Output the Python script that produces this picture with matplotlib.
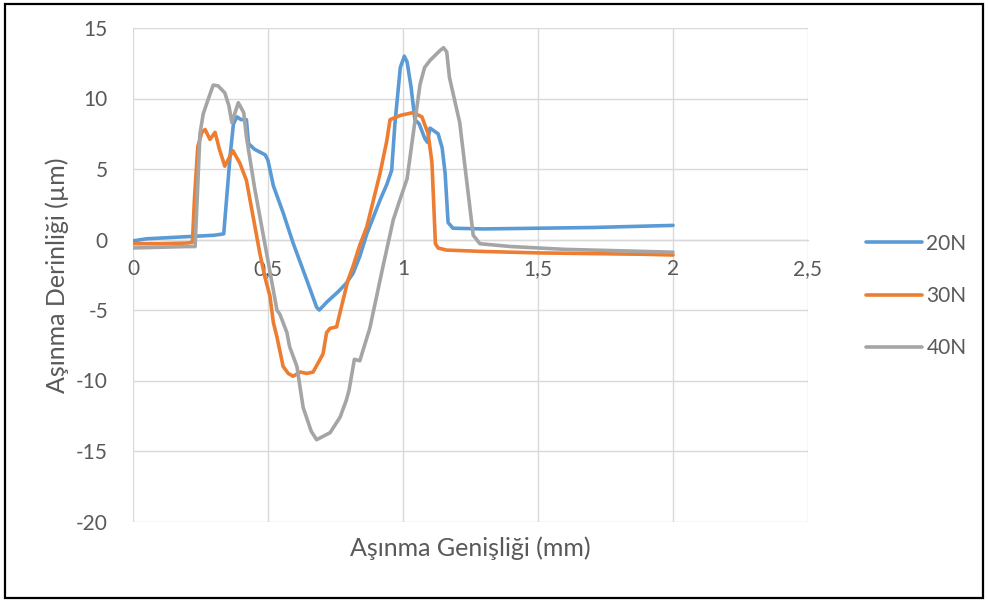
import matplotlib
matplotlib.use("Agg")
import matplotlib.pyplot as plt
from matplotlib.patches import Rectangle

# ---- data ----
x20 = [0, 0.05, 0.1, 0.2, 0.3, 0.336, 0.345, 0.36, 0.372, 0.385, 0.40, 0.42, 0.428,
       0.45, 0.47, 0.49, 0.50, 0.52, 0.556, 0.593, 0.644, 0.68, 0.69, 0.72, 0.76,
       0.79, 0.815, 0.84, 0.866, 0.915, 0.94, 0.958, 0.97, 0.99, 1.005, 1.015, 1.03,
       1.044, 1.06, 1.08, 1.09, 1.10, 1.13, 1.145, 1.156, 1.167, 1.185, 1.3, 1.5,
       1.7, 1.9, 2.0]
y20 = [-0.1, 0.05, 0.1, 0.2, 0.3, 0.4, 2.5, 6.0, 8.2, 8.7, 8.5, 8.5, 6.8,
       6.4, 6.2, 6.0, 5.6, 3.8, 1.9, -0.25, -2.9, -4.8, -5.0, -4.4, -3.7,
       -3.1, -2.4, -1.2, 0.4, 2.8, 3.9, 4.9, 8.2, 12.2, 13.0, 12.6, 10.8,
       8.5, 8.2, 7.2, 6.9, 7.9, 7.5, 6.5, 4.7, 1.2, 0.8, 0.75, 0.8,
       0.85, 0.95, 1.0]

x30 = [0, 0.1, 0.2, 0.22, 0.228, 0.24, 0.255, 0.267, 0.285, 0.304, 0.32, 0.34,
       0.37, 0.396, 0.42, 0.445, 0.47, 0.489, 0.507, 0.52, 0.533, 0.556, 0.575,
       0.593, 0.62, 0.644, 0.667, 0.693, 0.704, 0.717, 0.73, 0.754, 0.778, 0.796,
       0.815, 0.84, 0.866, 0.915, 0.94, 0.952, 0.99, 1.037, 1.07, 1.093, 1.107,
       1.115, 1.12, 1.13, 1.16, 1.3, 1.5, 1.7, 1.9, 2.0]
y30 = [-0.3, -0.3, -0.25, -0.2, 3.0, 6.6, 7.6, 7.8, 7.1, 7.6, 6.4, 5.2,
       6.3, 5.4, 4.2, 1.6, -1.0, -2.7, -4.0, -5.9, -6.9, -9.0, -9.5,
       -9.7, -9.4, -9.5, -9.4, -8.5, -8.1, -6.6, -6.3, -6.2, -4.3, -2.9,
       -1.9, -0.4, 0.9, 4.7, 7.0, 8.5, 8.8, 9.0, 8.7, 7.5, 5.5,
       2.0, -0.3, -0.6, -0.75, -0.85, -0.95, -1.0, -1.05, -1.1]

x40 = [0, 0.1, 0.2, 0.23, 0.238, 0.248, 0.26, 0.274, 0.297, 0.315, 0.34, 0.355,
       0.366, 0.39, 0.41, 0.42, 0.45, 0.496, 0.533, 0.544, 0.57, 0.58, 0.607,
       0.63, 0.66, 0.68, 0.70, 0.73, 0.767, 0.79, 0.80, 0.82, 0.84, 0.877,
       0.926, 0.964, 0.99, 1.015, 1.04, 1.063, 1.08, 1.10, 1.137, 1.15, 1.162, 1.172,
       1.185, 1.21, 1.235, 1.26, 1.285, 1.4, 1.6, 1.8, 2.0]
y40 = [-0.6, -0.55, -0.5, -0.5, 3.0, 7.5, 8.9, 9.7, 10.95, 10.9, 10.4, 9.5,
       8.3, 9.7, 9.0, 7.3, 3.7, -1.1, -5.0, -5.3, -6.6, -7.6, -9.0,
       -11.9, -13.6, -14.2, -14.0, -13.7, -12.6, -11.4, -10.7, -8.5, -8.6, -6.3,
       -1.9, 1.4, 2.9, 4.3, 7.8, 11.0, 12.2, 12.7, 13.4, 13.6, 13.3, 11.5,
       10.4, 8.3, 4.3, 0.3, -0.3, -0.5, -0.7, -0.8, -0.9]

series_names = ["20N", "30N", "40N"]
series_colors = ["#5B9BD5", "#ED7D31", "#A5A5A5"]

xticks = [0, 0.5, 1, 1.5, 2, 2.5]
xtick_labels = ["0", "0,5", "1", "1,5", "2", "2,5"]
yticks = [-20, -15, -10, -5, 0, 5, 10, 15]
ytick_labels = ["-20", "-15", "-10", "-5", "0", "5", "10", "15"]

xlabel = "Aşınma Genişliği (mm)"
ylabel = "Aşınma Derinliği (µm)"

# ---- figure ----
plt.rcParams['font.family'] = ['Lato', 'DejaVu Sans']
W, H = 988, 601
fig = plt.figure(figsize=(W / 100, H / 100), dpi=100)
ax = fig.add_axes([133 / W, 1 - 521.5 / H, (808 - 133) / W, (521.5 - 28) / H])

txt_col = "#595959"
grid_col = "#D9D9D9"

for xs, ys, name, col in zip([x20, x30, x40], [y20, y30, y40], series_names, series_colors):
    ax.plot(xs, ys, color=col, lw=2.6, label=name, solid_joinstyle='round', solid_capstyle='round')

ax.set_xlim(0, 2.5)
ax.set_ylim(-20, 15)
ax.set_xticks(xticks)
ax.set_xticklabels(xtick_labels)
ax.set_yticks(yticks)
ax.set_yticklabels(ytick_labels)

for s in ax.spines.values():
    s.set_visible(False)
ax.spines['bottom'].set_visible(True)
ax.spines['bottom'].set_position(('data', 0))
ax.spines['bottom'].set_color(grid_col)
ax.spines['bottom'].set_linewidth(1.0)
ax.spines['bottom'].set_zorder(0.5)

ax.grid(True, color=grid_col, lw=1.0)
ax.set_axisbelow(True)
ax.tick_params(axis='both', length=0, colors=txt_col, labelsize=15)
ax.tick_params(axis='y', pad=18)
ax.tick_params(axis='x', pad=14)

fig.text(470 / W, 1 - 548 / H, xlabel, ha='center', va='center', fontsize=18, color=txt_col)
fig.text(57 / W, 1 - 275 / H, ylabel, ha='center', va='center', rotation=90, fontsize=18, color=txt_col)

leg = ax.legend(loc='center left', bbox_to_anchor=(866 / W, 1 - 296 / H),
                bbox_transform=fig.transFigure, frameon=False, fontsize=15,
                handlelength=2.7, handletextpad=0.2, labelspacing=1.55,
                borderpad=0, borderaxespad=0)
for t in leg.get_texts():
    t.set_color(txt_col)

fig.patches.append(Rectangle((5 / W, 3 / H), (983 - 5) / W, (597 - 3) / H,
                             transform=fig.transFigure, fill=False,
                             edgecolor='black', lw=1.6))

fig.savefig("out.png", dpi=100)
